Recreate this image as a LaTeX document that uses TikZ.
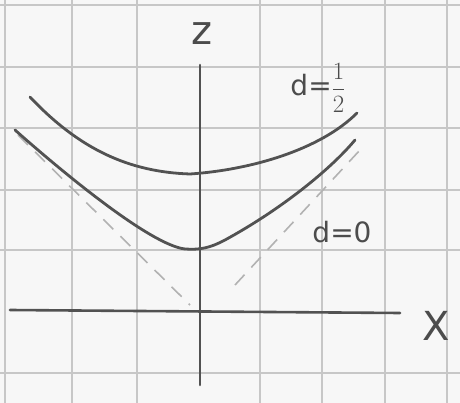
\documentclass[tikz,border=0pt]{standalone}
\usepackage{fontspec}
\setmainfont{DejaVu Sans}
\begin{document}
\begin{tikzpicture}[x=1pt,y=-1pt,
  gridline/.style={draw=black!22,line width=1.3pt},
  axisline/.style={draw=black!68,line width=2.6pt,line cap=round},
  curve/.style={draw=black!68,line width=2.8pt,line cap=round,line join=round},
  cone/.style={draw=black!30,line width=1.6pt,dash pattern=on 14pt off 10pt},
  lbl/.style={text=black!70,inner sep=0pt}]
\fill[black!3] (0,0) rectangle (460,403);
\useasboundingbox (0,0) rectangle (460,403);
\foreach \gx in {5,72,137,260,322,385,447}
  \draw[gridline] (\gx,0) -- (\gx,403);
\foreach \gy in {5,67,128,190,250,373}
  \draw[gridline] (0,\gy) -- (460,\gy);
% axes
\coordinate (zb) at (200,385);
\coordinate (zt) at (200,65);
\coordinate (xl) at (10,310);
\coordinate (xr) at (400,313);
\draw[axisline] (zb) -- (zt);
\draw[axisline] (xl) -- (xr);
\node[lbl,font=\fontsize{40}{40}\selectfont] (zlab) at (202,34) {z};
\node[lbl,font=\fontsize{40}{40}\selectfont] (xlab) at (436,326) {X};
% cone (dashed)
\coordinate (cl1) at (18,135);
\coordinate (cl2) at (190,305);
\coordinate (cr1) at (235,285);
\coordinate (cr2) at (360,150);
\draw[cone] (cl1) -- (cl2);
\draw[cone] (cr1) -- (cr2);
% curves
\draw[curve] (30,97) .. controls (80,150) and (130,172) .. (190,174)
             .. controls (250,170) and (320,150) .. (357,113);
\draw[curve] (15,130) .. controls (60,170) and (150,245) .. (185,249)
             .. controls (200,250) and (210,248) .. (225,240)
             .. controls (280,210) and (330,170) .. (355,140);
% labels
\node[lbl,font=\fontsize{28}{28}\selectfont] (dhalf) at (318,88) {d=${\displaystyle\frac{1}{2}}$};
\node[lbl,font=\fontsize{28}{28}\selectfont] (dzero) at (342,232) {d=0};
\end{tikzpicture}
\end{document}
